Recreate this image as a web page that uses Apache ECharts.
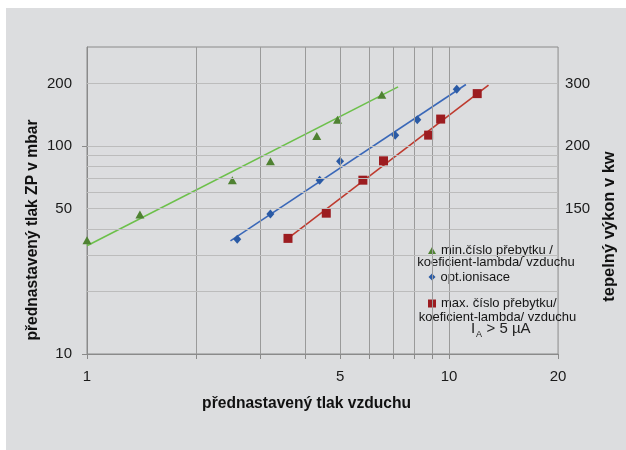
<!DOCTYPE html>
<html>
<head>
<meta charset="utf-8">
<script src="https://cdn.jsdelivr.net/npm/echarts@6/dist/echarts.min.js"></script>
<style>
html,body{margin:0;padding:0;background:#fff;}
#chart{width:626px;height:450px;}
</style>
</head>
<body>
<div id="chart"></div>
<script>
// ---- data ----
const greenName = 'min.číslo přebytku /';
const blueName = 'opt.ionisace';
const redName = 'max. číslo přebytku/';
const secondLine = 'koeficient-lambda/ vzduchu';

const greenX = [1.0, 1.40, 2.52, 3.21, 4.31, 4.92, 6.52];
const greenY = [35.3, 46.9, 68.6, 84.7, 112, 134, 177];
const blueX = [2.60, 3.21, 4.39, 5.00, 7.10, 8.17, 10.5];
const blueY = [35.7, 47.1, 68.6, 84.7, 113, 134, 188];
const redX = [3.59, 4.58, 5.78, 6.59, 8.78, 9.48, 11.96];
const redY = [36.0, 47.6, 68.6, 85.0, 113, 135, 179];

// trend lines (endpoints)
const greenTrendX = [1.0, 7.23];
const greenTrendY = [33.2, 192.8];
const blueTrendX = [2.49, 11.13];
const blueTrendY = [35.0, 198];
const redTrendX = [3.59, 12.85];
const redTrendY = [36.0, 196.6];

// ticks / labels
const xTickValues = [1, 2, 3, 4, 5, 6, 7, 8, 9, 10, 20];
const xLabelValues = [1, 5, 10, 20];
const xGridValues = [2, 3, 4, 5, 6, 7, 8, 9, 10];
const yLabelValues = [10, 50, 100, 200];
const yTickValues = [10, 100];
const yGridValues = [20, 30, 40, 50, 60, 70, 80, 90, 100, 200];
const rightLabelValues = [50, 100, 200];
const rightLabelTexts = ['150', '200', '300'];

// ---- chart ----
const FONT = "'Liberation Sans', Arial, sans-serif";
const zip = (xs, ys) => xs.map((x, i) => [x, ys[i]]);
const chart = echarts.init(document.getElementById('chart'), null, {renderer: 'canvas'});

const axisGray = '#8a8a8a';
const option = {
  animation: false,
  backgroundColor: '#ffffff',
  textStyle: {fontFamily: FONT},
  grid: {
    left: 87, right: 67, top: 47, bottom: 96,
    show: true, borderColor: axisGray, borderWidth: 1,
    backgroundColor: 'transparent'
  },
  xAxis: {
    type: 'log', logBase: 10, min: 1, max: 20,
    name: 'přednastavený tlak vzduchu',
    nameLocation: 'middle', nameGap: 42,
    nameTextStyle: {fontSize: 15.6, fontWeight: 'bold', color: '#111', fontFamily: FONT, padding: [0, 32, 0, 0]},
    axisLine: {show: true, lineStyle: {color: axisGray, width: 1}},
    axisTick: {show: true, customValues: xTickValues, length: 5, lineStyle: {color: axisGray}},
    axisLabel: {customValues: xLabelValues, fontSize: 15, color: '#1a1a1a', margin: 15, fontFamily: FONT,
      formatter: v => String(Math.round(v))},
    splitLine: {show: false},
    minorTick: {show: false}
  },
  yAxis: [
    {
      type: 'log', logBase: 10, min: 10, max: 300,
      name: 'přednastavený tlak ZP v mbar',
      nameLocation: 'middle', nameGap: 46, nameMoveOverlap: false,
      nameTextStyle: {fontSize: 15.6, fontWeight: 'bold', color: '#111', fontFamily: FONT, padding: [0, 59, 0, 0]},
      axisLine: {show: true, lineStyle: {color: axisGray, width: 1}},
      axisTick: {show: true, customValues: yTickValues, length: 5, lineStyle: {color: axisGray}},
      axisLabel: {customValues: yLabelValues, fontSize: 15, color: '#1a1a1a', margin: 15, fontFamily: FONT,
        formatter: v => String(Math.round(v))},
      splitLine: {show: false}
    },
    {
      type: 'log', logBase: 10, min: 10, max: 300, position: 'right',
      name: 'tepelný výkon v kw',
      nameLocation: 'middle', nameGap: 40, nameRotate: 90,
      nameTextStyle: {fontSize: 16.5, fontWeight: 'bold', color: '#111', fontFamily: FONT, padding: [0, 52, 0, 0]},
      axisLine: {show: false},
      axisTick: {show: false},
      axisLabel: {customValues: rightLabelValues, fontSize: 15, color: '#1a1a1a', margin: 7, fontFamily: FONT,
        formatter: v => {
          const i = rightLabelValues.findIndex(r => Math.abs(r - v) < 1e-6 * r);
          return i >= 0 ? rightLabelTexts[i] : '';
        }},
      splitLine: {show: false}
    }
  ],
  legend: [
    {data: [{name: greenName, icon: 'triangle'}], left: 428, top: 244, padding: 0, itemWidth: 8, itemHeight: 7,
      textStyle: {fontSize: 13, color: '#151515', fontFamily: FONT}, selectedMode: false},
    {data: [{name: blueName, icon: 'diamond'}], left: 428.5, top: 270.5, padding: 0, itemWidth: 7, itemHeight: 7,
      textStyle: {fontSize: 13, color: '#151515', fontFamily: FONT}, selectedMode: false},
    {data: [{name: redName, icon: 'rect'}], left: 428, top: 297, padding: 0, itemWidth: 8, itemHeight: 8,
      textStyle: {fontSize: 13, color: '#151515', fontFamily: FONT}, selectedMode: false}
  ],
  graphic: [
    {type: 'rect', z: -100, silent: true, shape: {x: 6, y: 8, width: 620, height: 442}, style: {fill: '#dcdddf'}},
    {type: 'text', silent: true, x: 496, y: 262.5, style: {text: secondLine, fontSize: 13, fontFamily: FONT, fill: '#151515', align: 'center', verticalAlign: 'middle'}},
    {type: 'text', silent: true, x: 497.5, y: 317, style: {text: secondLine, fontSize: 13, fontFamily: FONT, fill: '#151515', align: 'center', verticalAlign: 'middle'}},
    {type: 'text', silent: true, x: 471, y: 329, style: {text: 'I', fontSize: 15, fontFamily: FONT, fill: '#222', align: 'left', verticalAlign: 'middle'}},
    {type: 'text', silent: true, x: 476, y: 335, style: {text: 'A', fontSize: 9, fontFamily: FONT, fill: '#222', align: 'left', verticalAlign: 'middle'}},
    {type: 'text', silent: true, x: 486.5, y: 329, style: {text: '> 5 µA', fontSize: 15, fontFamily: FONT, fill: '#222', align: 'left', verticalAlign: 'middle'}}
  ],
  series: [
    {
      name: 'grid', type: 'line', data: [], z: 1, silent: true,
      markLine: {
        silent: true, symbol: ['none', 'none'], label: {show: false}, animation: false,
        data: xGridValues.map(v => ({xAxis: v, lineStyle: {color: '#9a9a9a', width: 1, type: 'solid'}}))
          .concat(yGridValues.map(v => ({yAxis: v, lineStyle: {color: '#bcbcbc', width: 1.2, type: 'solid'}})))
      }
    },
    {name: 'green trend', type: 'line', data: zip(greenTrendX, greenTrendY), showSymbol: false, symbol: 'none',
      lineStyle: {color: '#6cc04a', width: 1.6}, z: 3, silent: true},
    {name: 'blue trend', type: 'line', data: zip(blueTrendX, blueTrendY), showSymbol: false, symbol: 'none',
      lineStyle: {color: '#3a68b8', width: 1.6}, z: 3, silent: true},
    {name: 'red trend', type: 'line', data: zip(redTrendX, redTrendY), showSymbol: false, symbol: 'none',
      lineStyle: {color: '#be3a2e', width: 1.6}, z: 3, silent: true},
    {name: greenName, type: 'scatter', data: zip(greenX, greenY), symbol: 'triangle', symbolSize: [9, 8],
      itemStyle: {color: '#4f8232', opacity: 1}, z: 4},
    {name: blueName, type: 'scatter', data: zip(blueX, blueY), symbol: 'diamond', symbolSize: [8, 9],
      itemStyle: {color: '#2a5aa5', opacity: 1}, z: 4},
    {name: redName, type: 'scatter', data: zip(redX, redY), symbol: 'rect', symbolSize: [9, 9],
      itemStyle: {color: '#9c1c20', opacity: 1}, z: 4}
  ]
};
chart.setOption(option);
</script>
</body>
</html>
